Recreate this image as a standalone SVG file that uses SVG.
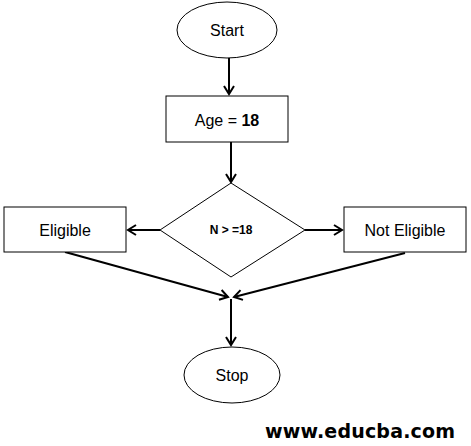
<svg xmlns="http://www.w3.org/2000/svg" width="471" height="446" viewBox="0 0 471 446">
<style>
.shape{fill:#fff;stroke:#000;stroke-width:1}
.lbl{font-family:"Liberation Sans",Arial,sans-serif;font-size:16px;fill:#000;text-anchor:middle;dominant-baseline:central}
.conn{stroke:#000;stroke-width:2;fill:none}
</style>
<defs>
<marker id="arr" markerWidth="12" markerHeight="12" refX="9" refY="6" orient="auto" markerUnits="userSpaceOnUse">
<path d="M1,1 L9,6 L1,11" fill="none" stroke="#000" stroke-width="2"/>
</marker>
</defs>
<g id="connectors">
<line class="conn" x1="229" y1="58" x2="229" y2="94" marker-end="url(#arr)"/>
<line class="conn" x1="231" y1="142" x2="231" y2="182" marker-end="url(#arr)"/>
<line class="conn" x1="160" y1="230" x2="128" y2="230" marker-end="url(#arr)"/>
<line class="conn" x1="305" y1="230" x2="342" y2="230" marker-end="url(#arr)"/>
<line class="conn" x1="65" y1="252" x2="228" y2="297" marker-end="url(#arr)"/>
<line class="conn" x1="405" y1="253" x2="234" y2="297" marker-end="url(#arr)"/>
<line class="conn" x1="231" y1="299" x2="231" y2="345" marker-end="url(#arr)"/>
</g>
<g id="start">
<ellipse class="shape" cx="227" cy="30" rx="50" ry="28"/>
<text class="lbl" x="227" y="30">Start</text>
</g>
<g id="age">
<rect class="shape" x="166" y="96" width="122" height="46"/>
<text class="lbl" x="227" y="120">Age = <tspan font-weight="bold">18</tspan></text>
</g>
<g id="decision">
<polygon class="shape" points="231,183 305,230 231,277 160,230"/>
<text class="lbl" x="231" y="230" style="font-size:12px;font-weight:bold">N &gt; =18</text>
</g>
<g id="eligible">
<rect class="shape" x="4" y="207" width="122" height="45"/>
<text class="lbl" x="65" y="230">Eligible</text>
</g>
<g id="noteligible">
<rect class="shape" x="344" y="207" width="122" height="45"/>
<text class="lbl" x="405" y="230">Not Eligible</text>
</g>
<g id="stop">
<ellipse class="shape" cx="232" cy="375" rx="48" ry="28"/>
<text class="lbl" x="232" y="375">Stop</text>
</g>
<text x="455" y="438" style="font-family:'DejaVu Sans',Verdana,sans-serif;font-size:19px;font-weight:bold;text-anchor:end" textLength="190">www.educba.com</text>
</svg>
